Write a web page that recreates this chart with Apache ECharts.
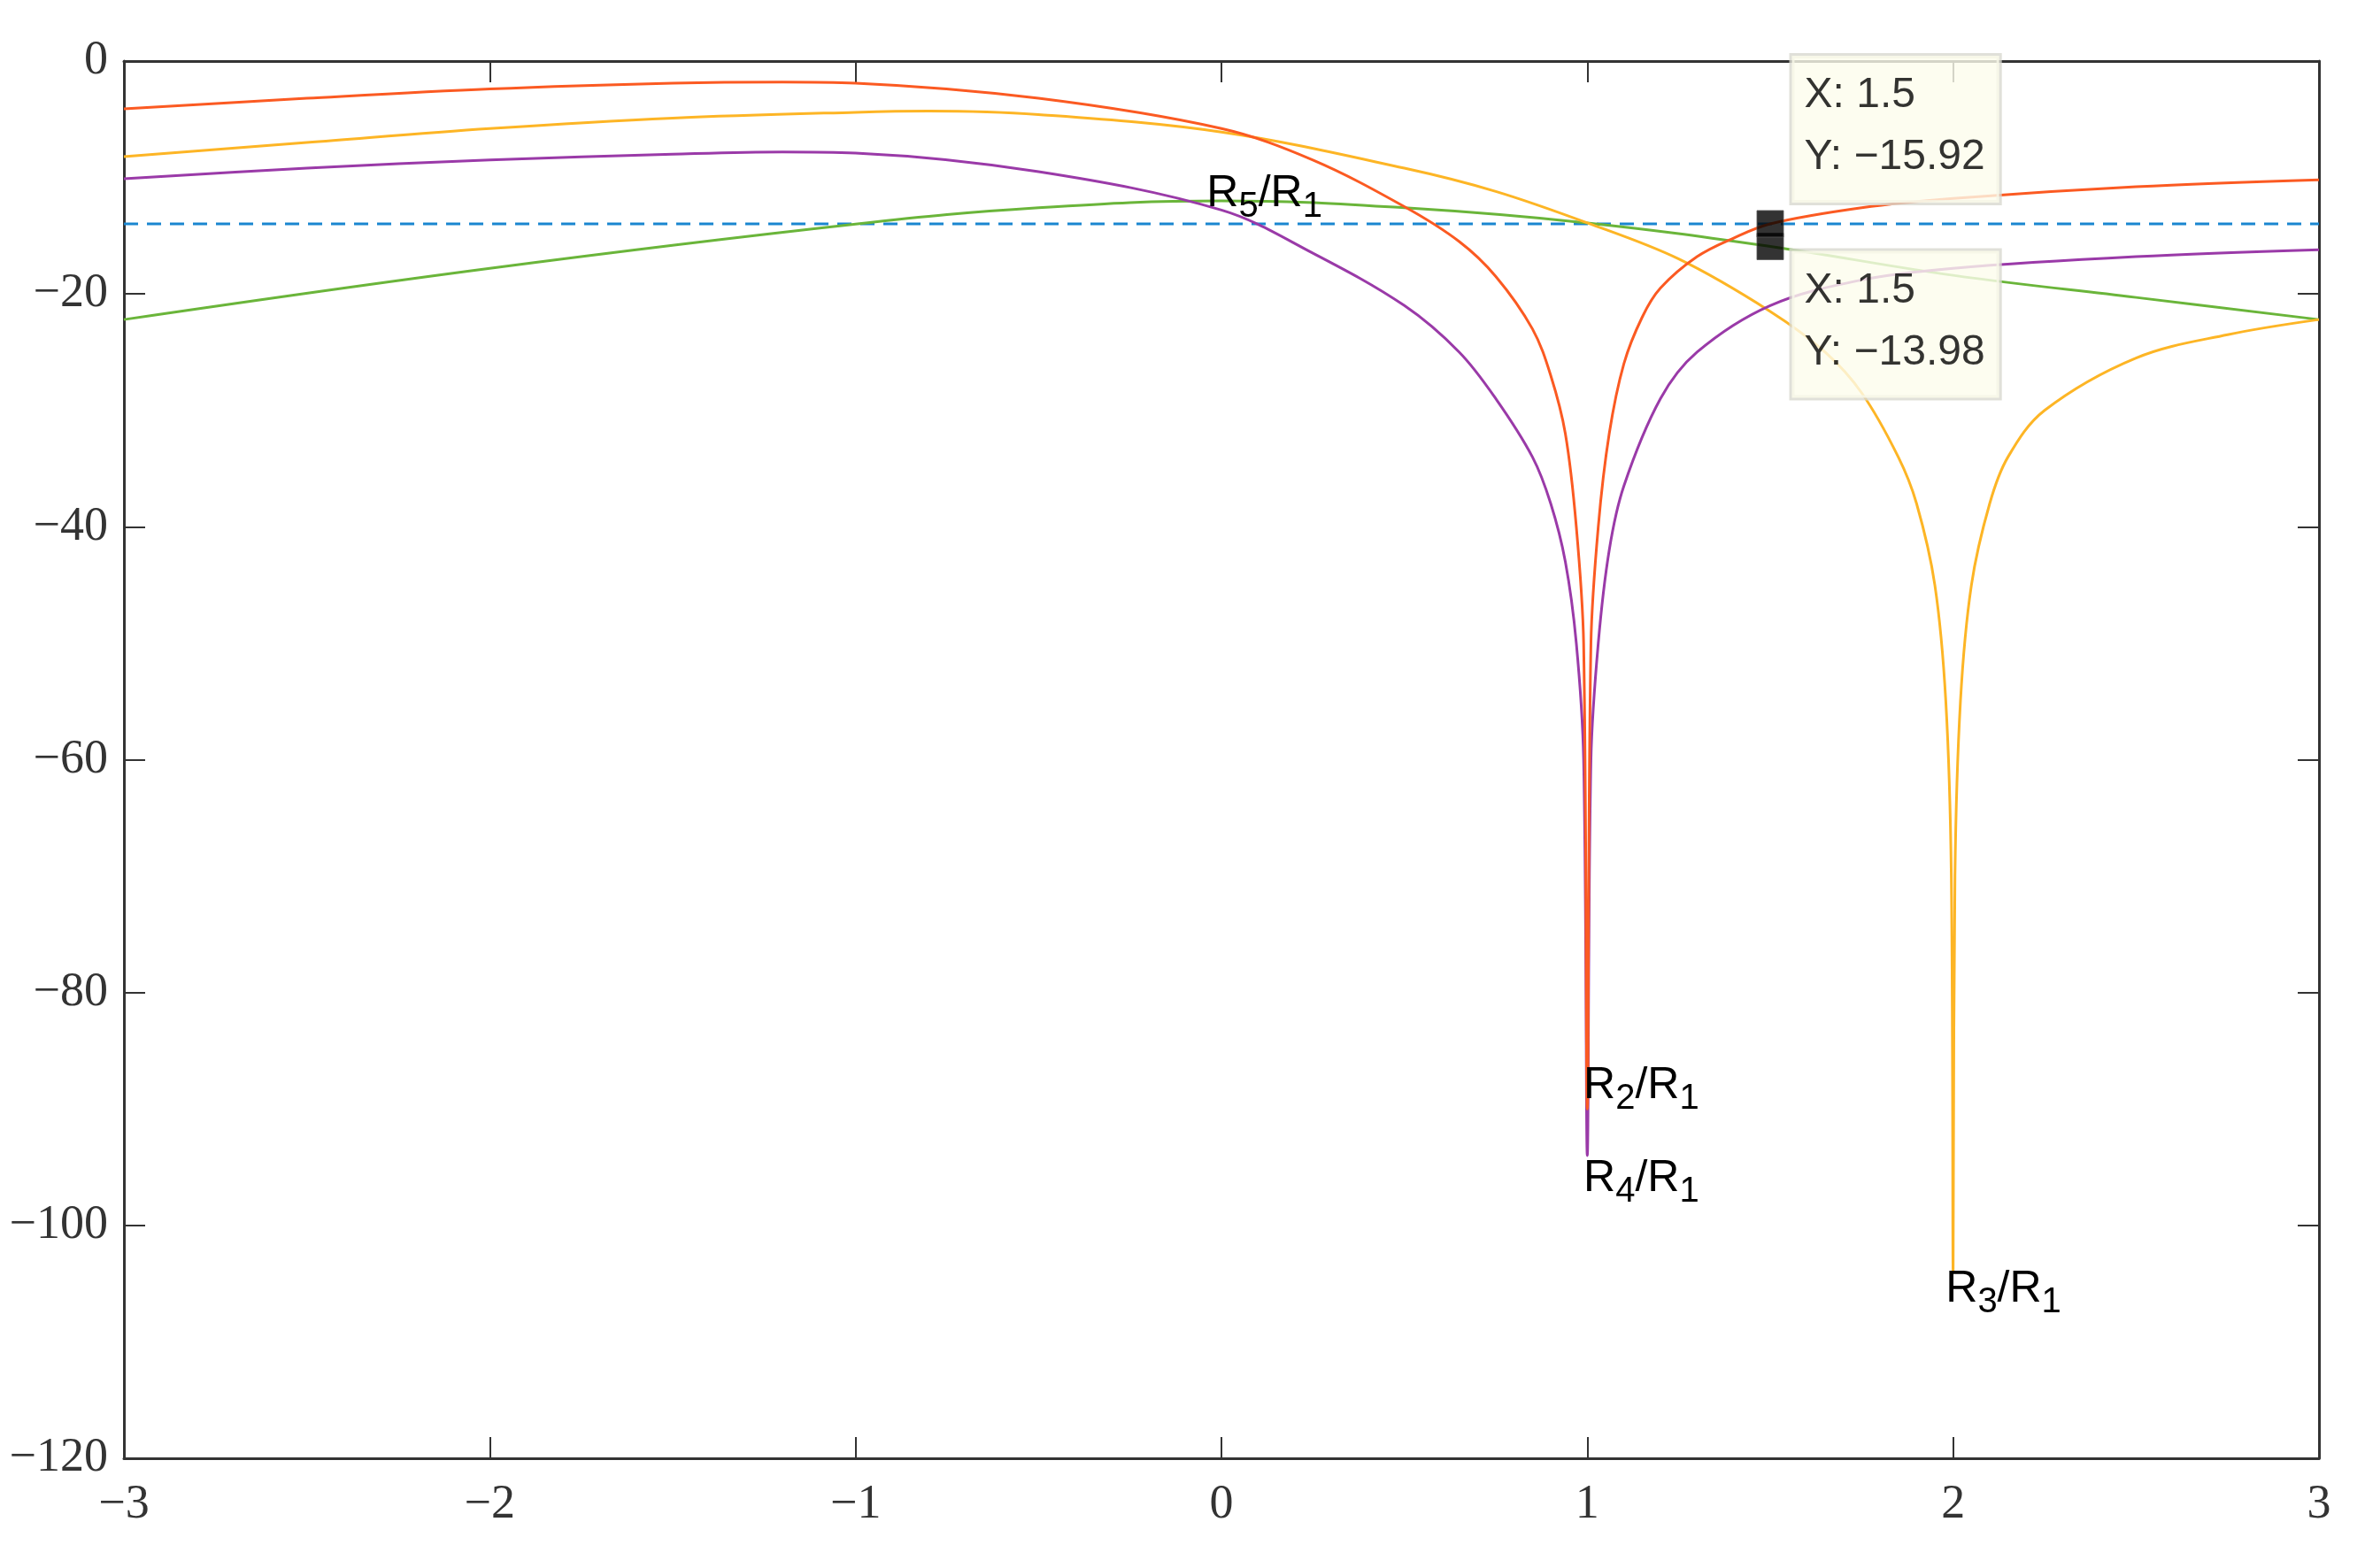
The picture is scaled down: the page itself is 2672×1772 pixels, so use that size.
<!DOCTYPE html>
<html>
<head>
<meta charset="utf-8">
<script src="https://cdn.jsdelivr.net/npm/echarts@6/dist/echarts.min.js"></script>
<style>html,body{margin:0;padding:0;background:#fff}#chart{width:2672px;height:1772px}</style>
</head>
<body>
<div id="chart"></div>
<script>
// values
var r2X = [-3,-2.5,-2,-1.5,-1.2,-1,-0.5,0,0.25,0.5,0.65,0.75,0.85,0.9,0.94,0.97,0.99,1,1.01,1.03,1.06,1.1,1.15,1.2,1.3,1.4,1.5,1.75,2,2.5,3];
var r2Y = [-4.1,-3.2,-2.4,-1.9,-1.8,-1.9,-3.2,-5.8,-8.5,-12.5,-15.5,-18.5,-23,-27,-32,-40,-50,-90,-50,-40,-32,-26,-22,-19.5,-16.8,-15.2,-13.98,-12.6,-11.8,-10.8,-10.2];
var r3X = [-3,-2.5,-2,-1.5,-1,-0.8,-0.5,0,0.5,0.75,1,1.25,1.5,1.65,1.75,1.85,1.9,1.95,1.98,1.995,2,2.005,2.02,2.05,2.1,2.15,2.25,2.5,2.75,3];
var r3Y = [-8.2,-7,-5.8,-4.9,-4.4,-4.3,-4.6,-6.1,-9.2,-11.2,-13.9,-17,-21.5,-25,-28.5,-34,-38,-45,-55,-70,-104,-70,-55,-45,-38,-34,-30,-25.5,-23.5,-22.2];
var r4X = [-3,-2.5,-2,-1.5,-1.2,-1,-0.5,0,0.25,0.5,0.65,0.75,0.85,0.9,0.94,0.97,0.99,1,1.01,1.03,1.06,1.1,1.2,1.3,1.5,1.75,2,2.5,3];
var r4Y = [-10.1,-9.2,-8.5,-8,-7.8,-7.9,-9.5,-12.8,-16.5,-21,-25,-29,-34,-38,-43,-50,-60,-94,-60,-50,-42,-36.5,-29,-25,-21,-18.8,-17.8,-16.8,-16.2];
var r5X = [-3,-2,-1,-0.5,0,0.5,1,1.5,2,2.5,3];
var r5Y = [-22.2,-17.8,-14,-12.6,-12,-12.6,-13.9,-15.92,-18.4,-20.3,-22.2];
var refY = -13.98;
var tipX = 1.5;
var tipY = [-15.92, -13.98];

function pairs(xs, ys) { return xs.map(function (x, i) { return [x, ys[i]]; }); }

var chart = echarts.init(document.getElementById('chart'));
var serif = 'Liberation Serif';
var sans = 'Liberation Sans';
var rich = { s: { fontSize: 40, fontFamily: sans, color: '#000', verticalAlign: 'bottom', padding: [30, 0, 0, 0] } };

function curveLabel(x, y, sub) {
    return {
        coord: [x, y],
        label: { show: true, position: 'right', distance: 4, fontFamily: sans, fontSize: 50, color: '#000',
            formatter: 'R{s|' + sub + '}/R{s|1}', rich: rich },
        symbolSize: 0
    };
}

var tipStyle = { show: true, fontFamily: sans, fontSize: 48, color: '#000', lineHeight: 70,
    backgroundColor: '#fdfdec', borderColor: '#d8d8d0', borderWidth: 3, padding: [10, 16, 16, 14] };

function minus(v) { return String(v).replace('-', '\u2212'); }

var tickStyle = { inside: true, length: 24, lineStyle: { color: '#333', width: 2 } };
var lineStyleAx = { onZero: false, lineStyle: { color: '#333', width: 3 } };

var option = {
    animation: false,
    grid: { left: 140, right: 52, top: 69, bottom: 124 },
    xAxis: [{
        type: 'value', min: -3, max: 3, interval: 1,
        axisLine: lineStyleAx, axisTick: tickStyle,
        axisLabel: { fontFamily: serif, fontSize: 54, color: '#333', margin: 26, formatter: minus },
        splitLine: { show: false }
    }, {
        type: 'value', min: -3, max: 3, interval: 1, position: 'top',
        axisLine: lineStyleAx, axisTick: tickStyle,
        axisLabel: { show: false }, splitLine: { show: false }
    }],
    yAxis: [{
        type: 'value', min: -120, max: 0, interval: 20, position: 'left',
        axisLine: Object.assign({ show: true }, lineStyleAx), axisTick: Object.assign({ show: true }, tickStyle),
        axisLabel: { fontFamily: serif, fontSize: 54, color: '#333', margin: 18, formatter: minus },
        splitLine: { show: false }
    }, {
        type: 'value', min: -120, max: 0, interval: 20, position: 'right',
        axisLine: Object.assign({ show: true }, lineStyleAx), axisTick: Object.assign({ show: true }, tickStyle),
        axisLabel: { show: false }, splitLine: { show: false }
    }],
    series: [
        { type: 'line', data: [[-3, refY], [3, refY]], showSymbol: false,
          lineStyle: { color: '#1a86d0', width: 3, type: [16, 10] } },
        { type: 'line', data: pairs(r5X, r5Y), showSymbol: false, smooth: 0.4,
          lineStyle: { color: '#6ab53a', width: 3 },
          markPoint: { data: [curveLabel(-0.05, -11.4, '5')], symbolSize: 0 } },
        { type: 'line', data: pairs(r3X, r3Y), showSymbol: false, smooth: 0.35,
          lineStyle: { color: '#fdb525', width: 3 },
          markPoint: { data: [curveLabel(1.97, -105.5, '3')], symbolSize: 0 } },
        { type: 'line', data: pairs(r4X, r4Y), showSymbol: false, smooth: 0.35,
          lineStyle: { color: '#9a3aa8', width: 3 },
          markPoint: { data: [curveLabel(0.98, -96, '4')], symbolSize: 0 } },
        { type: 'line', data: pairs(r2X, r2Y), showSymbol: false, smooth: 0.35,
          lineStyle: { color: '#fb5a22', width: 3 },
          markPoint: { data: [curveLabel(0.98, -88, '2')], symbolSize: 0 } },
        { type: 'scatter', symbol: 'rect', symbolSize: 30, z: 10,
          itemStyle: { color: '#000', borderColor: '#555', borderWidth: 1 },
          data: [
            { value: [tipX, tipY[0]], label: Object.assign({}, tipStyle, { position: [40, -200],
              formatter: 'X: ' + tipX + '\nY: ' + minus(tipY[0]) }) },
            { value: [tipX, tipY[1]], label: Object.assign({}, tipStyle, { position: [40, 46],
              formatter: 'X: ' + tipX + '\nY: ' + minus(tipY[1]) }) }
          ] }
    ]
};
chart.setOption(option);
</script>
</body>
</html>
